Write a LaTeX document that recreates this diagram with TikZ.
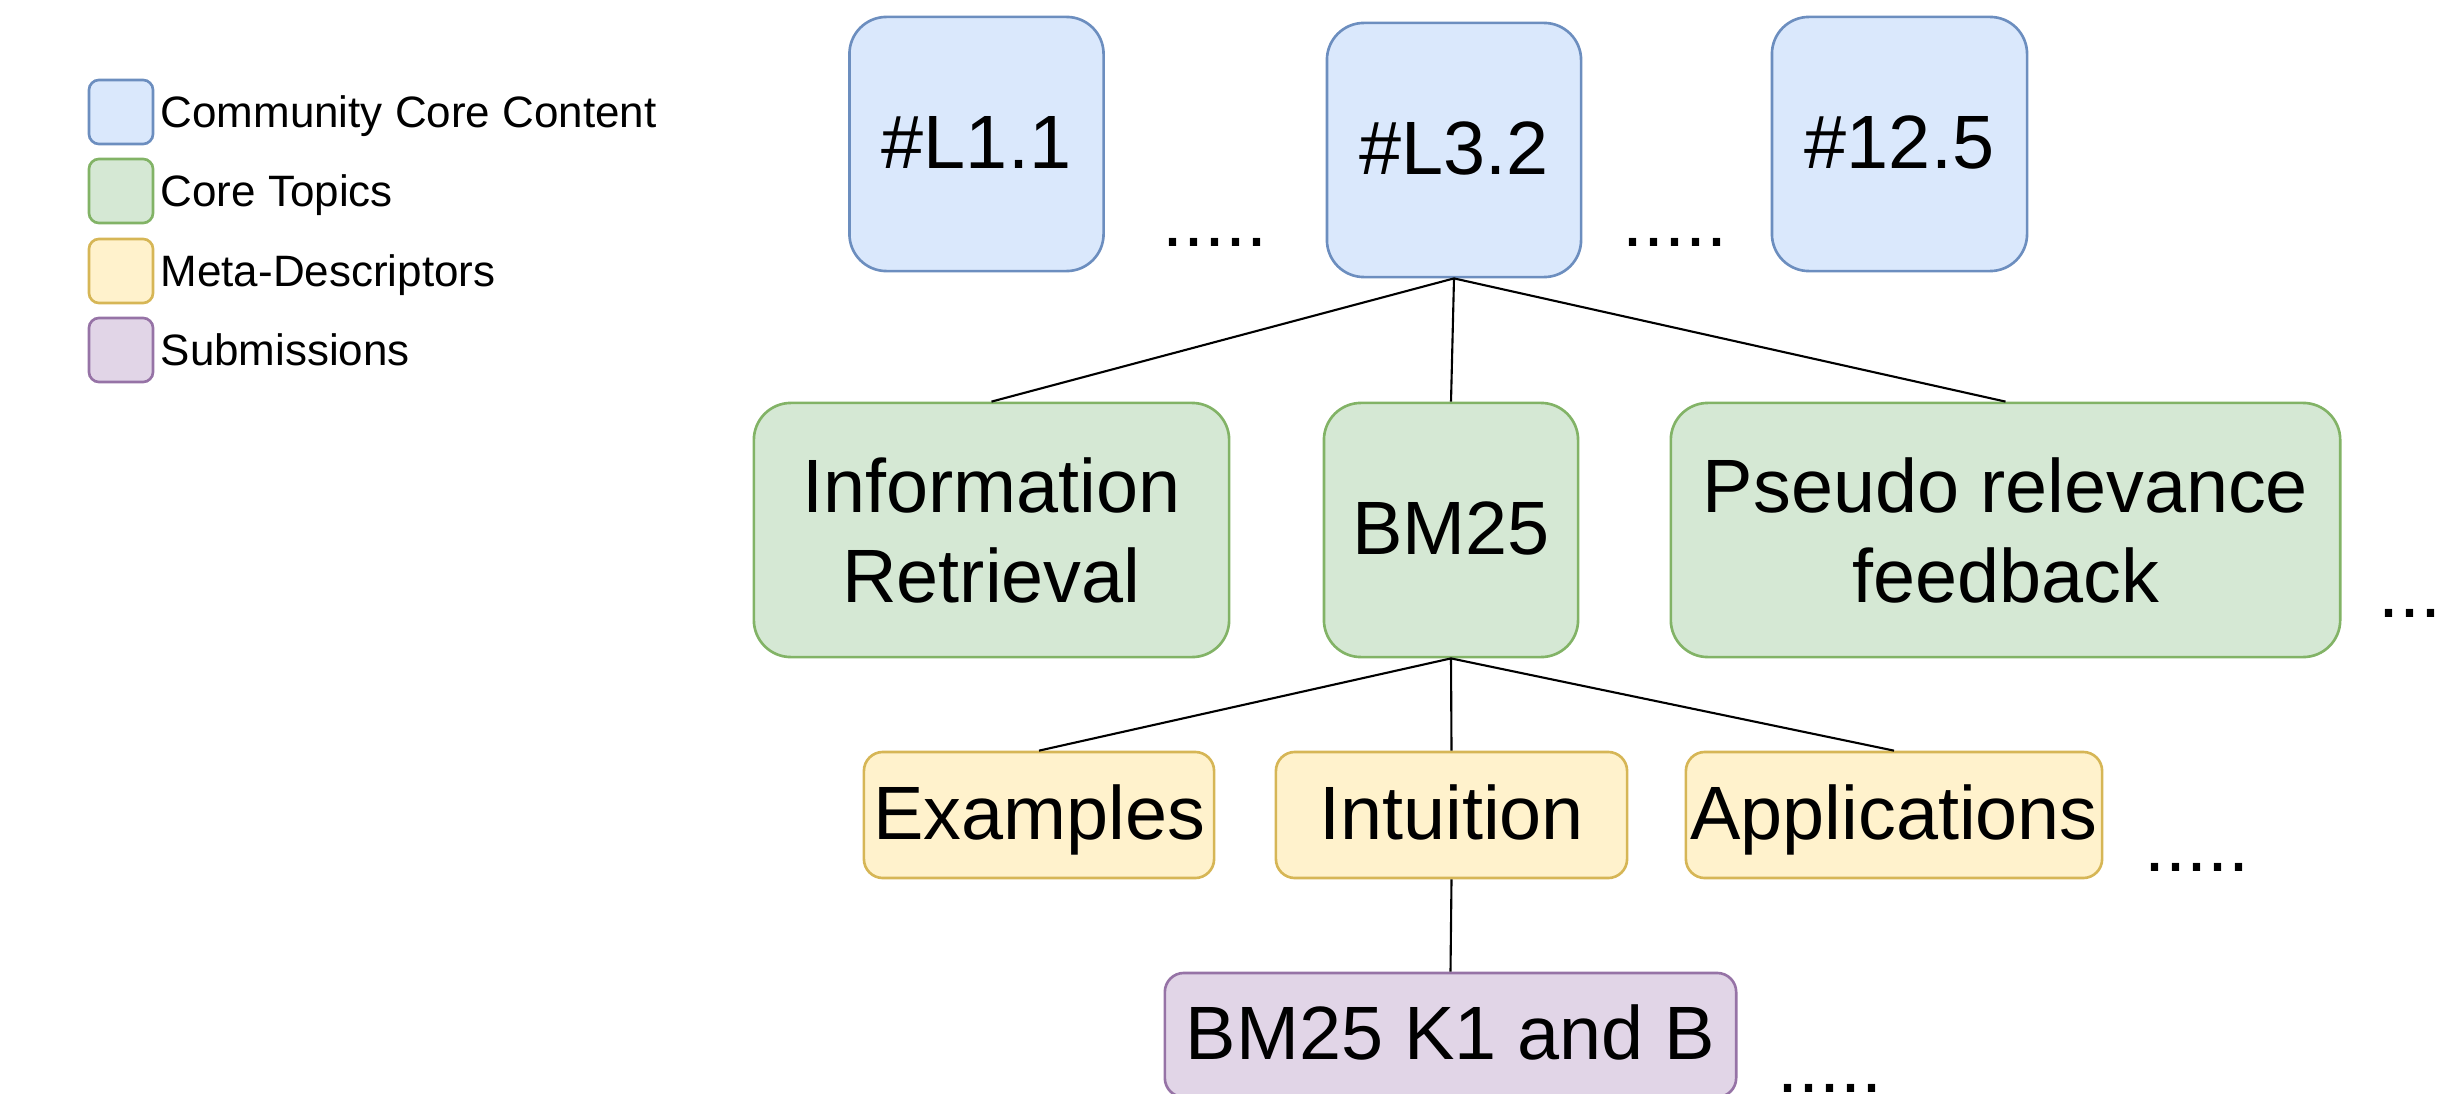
\documentclass[tikz,border=0pt]{standalone}
\usepackage{fontspec}
\setmainfont{Liberation Sans}
\usepackage{xcolor}
\usepackage{tikz}

\definecolor{coreFill}{HTML}{DAE8FC}
\definecolor{coreLine}{HTML}{6C8EBF}
\definecolor{topicFill}{HTML}{D5E8D4}
\definecolor{topicLine}{HTML}{82B366}
\definecolor{metaFill}{HTML}{FFF2CC}
\definecolor{metaLine}{HTML}{D6B656}
\definecolor{subFill}{HTML}{E1D5E7}
\definecolor{subLine}{HTML}{9673A6}

\tikzset{
    box/.style={line width=0.75pt, rounded corners=0.37cm, inner sep=0pt, align=center,
        font=\fontsize{21.5}{25.6}\selectfont},
    oneline/.style={text height=18pt, text depth=4.3pt},
    core/.style={box, oneline, fill=coreFill, draw=coreLine, minimum height=2.54cm},
    topic/.style={box, fill=topicFill, draw=topicLine, minimum height=2.54cm},
    meta/.style={box, oneline, fill=metaFill, draw=metaLine, minimum height=1.26cm, rounded corners=0.19cm},
    subm/.style={box, oneline, fill=subFill, draw=subLine, minimum height=1.24cm, rounded corners=0.19cm},
    key/.style={line width=0.75pt, rounded corners=0.1cm, minimum width=0.64cm, minimum height=0.64cm, inner sep=0pt},
    keytext/.style={anchor=west, inner sep=0pt, text height=8.9pt, text depth=0pt,
        font=\fontsize{12.5}{15}\selectfont},
    more/.style={anchor=base west, inner sep=0pt, font=\fontsize{21.5}{25.6}\selectfont},
    link/.style={line width=0.6pt}
}

\begin{document}
\begin{tikzpicture}[x=0.01cm, y=-0.01cm]
    \useasboundingbox (0,0) rectangle (2442,1094);

    % legend
    \node[key, fill=coreFill, draw=coreLine] (k1) at (121,112) {};
    \node[key, fill=topicFill, draw=topicLine] (k2) at (121,191) {};
    \node[key, fill=metaFill, draw=metaLine] (k3) at (121,271) {};
    \node[key, fill=subFill, draw=subLine] (k4) at (121,350) {};
    \node[keytext] (t1) at (160,112) {Community Core Content};
    \node[keytext] (t2) at (160,191) {Core Topics};
    \node[keytext] (t3) at (160,271) {Meta-Descriptors};
    \node[keytext] (t4) at (160,350) {Submissions};

    % community core content
    \node[core, minimum width=2.54cm] (L11) at (976.5,144) {\#L1.1};
    \node[core, minimum width=2.54cm] (L32) at (1454,150) {\#L3.2};
    \node[core, minimum width=2.55cm] (n125) at (1899.5,144) {\#12.5};

    % core topics
    \node[topic, minimum width=4.75cm] (ir) at (991.5,530) {Information\\Retrieval};
    \node[topic, oneline, minimum width=2.54cm] (bm) at (1451,530) {BM25};
    \node[topic, minimum width=6.69cm] (prf) at (2005.5,530) {Pseudo relevance\\feedback};

    % meta-descriptors
    \node[meta, minimum width=3.50cm] (ex) at (1039,815) {Examples};
    \node[meta, minimum width=3.51cm] (in) at (1451.5,815) {Intuition};
    \node[meta, minimum width=4.16cm] (ap) at (1894,815) {Applications};

    % submissions
    \node[subm, minimum width=5.71cm] (sb) at (1450.5,1035) {BM25 K1 and B};

    \node[more] (m1) at (1162,247) {.....};
    \node[more] (m2) at (1622,247) {.....};
    \node[more] (m3) at (2378,617) {...};
    \node[more] (m4) at (2144,871) {.....};
    \node[more] (m5) at (1777,1092) {.....};

    \draw[link] (L32.south) -- (ir.north);
    \draw[link] (L32.south) -- (bm.north);
    \draw[link] (L32.south) -- (prf.north);
    \draw[link] (bm.south) -- (ex.north);
    \draw[link] (bm.south) -- (in.north);
    \draw[link] (bm.south) -- (ap.north);
    \draw[link] (in.south) -- (sb.north);
\end{tikzpicture}
\end{document}
